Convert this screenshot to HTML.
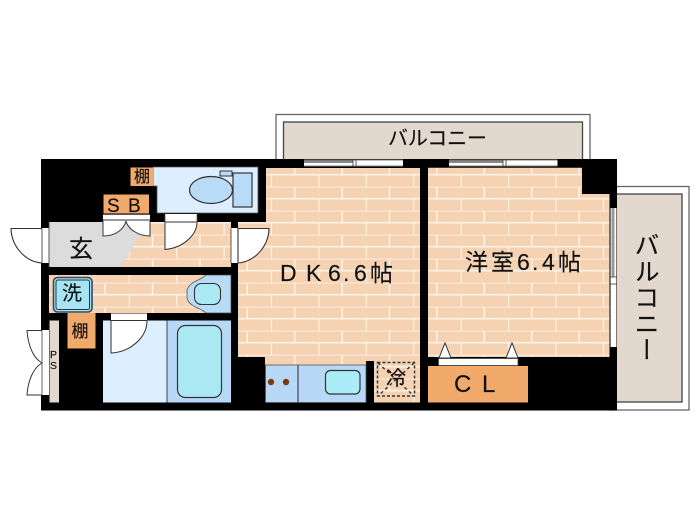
<!DOCTYPE html>
<html><head><meta charset="utf-8"><style>
html,body{margin:0;padding:0;background:#fff}
svg{display:block}
text{font-family:"Liberation Sans","Noto Sans CJK JP",sans-serif;fill:#111;stroke:#111;stroke-width:.15}
</style></head><body>
<svg width="700" height="525" viewBox="0 0 700 525" xmlns="http://www.w3.org/2000/svg">
<defs>
<pattern id="b" patternUnits="userSpaceOnUse" x="271" y="162.7" width="47.4" height="24">
<rect width="47.4" height="24" fill="#f5d3b2"/>
<path d="M0 0H47.4M0 12H47.4M23.7 0V12M0.4 12V24" stroke="#fdf5ec" stroke-width="1.4" fill="none"/>
</pattern>
</defs>
<rect width="700" height="525" fill="#fff"/>
<!-- balconies -->
<rect x="276" y="114.5" width="314" height="50" fill="#fff" stroke="#666" stroke-width="1.3"/>
<rect x="283.5" y="122" width="299" height="40" fill="#e2d8ce" stroke="#444" stroke-width="1.3"/>
<rect x="610" y="186.5" width="79" height="223.5" fill="#fff" stroke="#666" stroke-width="1.3"/>
<rect x="612" y="194" width="70" height="208" fill="#e2d8ce" stroke="#444" stroke-width="1.3"/>
<!-- main black -->
<rect x="41" y="159" width="576" height="251.5" fill="#000"/>
<!-- brick floors -->
<rect x="266" y="168" width="154" height="60" fill="url(#b)"/>
<path d="M238 222H420V402.5H374V361H366V365H265V357H238Z" fill="url(#b)"/>
<path d="M428 167.7H582V194H609.5V357H428Z" fill="url(#b)"/>
<rect x="49" y="222" width="182" height="45" fill="url(#b)"/>
<rect x="49" y="275" width="182" height="38" fill="url(#b)"/>
<!-- wall stubs -->
<rect x="231" y="213" width="35" height="9" fill="#000"/>
<rect x="231" y="222" width="7" height="45" fill="#000"/>
<!-- entry -->
<path d="M49 222H140V235L120.5 267H49Z" fill="#dcdcdc"/>
<!-- toilet -->
<path d="M153 167H258V213H157V186H153Z" fill="#dceeff" stroke="#555" stroke-width=".8"/>
<ellipse cx="211" cy="190" rx="21.5" ry="13.5" fill="#b8dcf8" stroke="#333" stroke-width="1.2"/>
<rect x="233" y="173" width="19" height="34" fill="#b8dcf8" stroke="#333" stroke-width="1.2"/>
<rect x="220" y="171" width="12" height="5" fill="#b8dcf8" stroke="#333" stroke-width="1"/>
<!-- shelves -->
<rect x="130.5" y="167.5" width="22.5" height="18.5" fill="#f2aa6c"/>
<rect x="103.5" y="194.5" width="45.5" height="19" fill="#f2aa6c"/>
<rect x="67.5" y="313" width="28" height="35.5" fill="#f2aa6c"/>
<text x="142" y="182" font-size="16" text-anchor="middle">棚</text>
<text x="107 128" y="212" font-size="19">SB</text>
<text x="80" y="337" font-size="17" text-anchor="middle">棚</text>
<!-- SB doors -->
<rect x="103" y="214" width="47" height="8" fill="#fff"/>
<path d="M103 214.5H150M103 220.5H150" stroke="#555" stroke-width="1"/>
<path d="M103 220V236C116 236 124 229 126 221C128 229 138 236 150 236V220Z" fill="#fff" stroke="#333" stroke-width="1"/>
<!-- door to toilet -->
<rect x="165" y="214" width="32" height="8" fill="#fff"/>
<path d="M165 222V249.5C183 248 197 235 197 222Z" fill="#fff" stroke="#333" stroke-width="1"/>
<path d="M165 214.5V222M197 214.5V222" stroke="#555" stroke-width=".8"/>
<text x="81" y="257" font-size="24" text-anchor="middle">玄</text>
<!-- front door -->
<rect x="42" y="228" width="7" height="35" fill="#fff"/>
<path d="M42 228.5H11C11.5 247 26 262 42 263" fill="#fff" stroke="#333" stroke-width="1.1"/>
<path d="M42 228.5V263M49 222V267" stroke="#444" stroke-width=".9" fill="none"/>
<!-- door to DK -->
<rect x="231" y="228" width="7" height="35" fill="#fff"/>
<path d="M238 228.5H269C268.5 247 254 262 238 263Z" fill="#fff" stroke="#333" stroke-width="1.1"/>
<path d="M231 228.5V263" stroke="#444" stroke-width=".9"/>
<!-- washer -->
<rect x="53.5" y="277.5" width="38.5" height="34.5" rx="4" fill="#a6e4f2" stroke="#2d4a66" stroke-width="1.6"/>
<rect x="56" y="280" width="33.5" height="29.5" rx="2" fill="none" stroke="#333" stroke-width="1"/>
<text x="72" y="300" font-size="20" text-anchor="middle">洗</text>
<!-- basin -->
<path d="M206 275H231V313H206C200 307 190 308 187 298V290C190 281 200 281 206 275Z" fill="#b8dcf8" stroke="#444" stroke-width=".7"/>
<rect x="194.5" y="283.5" width="26" height="21" rx="7" fill="#aae8f4" stroke="#333" stroke-width="1.1"/>
<!-- bath -->
<rect x="103" y="320.5" width="64" height="82" fill="#dceeff"/>
<rect x="167" y="320.5" width="64" height="82" fill="#b8d8f8"/>
<path d="M167 320.5V402.5" stroke="#444" stroke-width="1"/>
<rect x="177.5" y="325.5" width="44" height="72" rx="8" fill="#aae8f4" stroke="#333" stroke-width="1.2"/>
<rect x="111" y="313" width="36" height="7.5" fill="#fff"/>
<path d="M111 320.5V353C130 352 147 338 147 320.5Z" fill="#fff" stroke="#333" stroke-width="1"/>
<path d="M111 313.5H147" stroke="#666" stroke-width=".8"/>
<!-- PS -->
<rect x="49.5" y="320.5" width="9.5" height="82" fill="#e2d8ce"/>
<text x="53.5" y="358" font-size="10.5" text-anchor="middle" fill="#333">P</text>
<text x="53.5" y="369" font-size="10.5" text-anchor="middle" fill="#333">S</text>
<rect x="42" y="330" width="7" height="65" fill="#fff"/>
<path d="M42 330.5H27C28 345 33 358 42 363C33 368 28 381 27 395H42" fill="#fff" stroke="#333" stroke-width="1"/>
<path d="M42 330V395" stroke="#444" stroke-width=".8"/>
<!-- kitchen -->
<rect x="265.5" y="365" width="100.5" height="37.5" fill="#b8d8f8" stroke="#555" stroke-width=".8"/>
<path d="M298 365V402.5" stroke="#445" stroke-width="1.2"/>
<circle cx="271" cy="382" r="3.2" fill="#7a3c10"/>
<circle cx="286" cy="382" r="3.2" fill="#7a3c10"/>
<rect x="325.5" y="370.5" width="34.5" height="23.5" rx="5" fill="#aaecf8" stroke="#333" stroke-width="1.2"/>
<!-- fridge -->
<rect x="377.5" y="362.5" width="37" height="33.5" fill="none" stroke="#333" stroke-width="1.5" stroke-dasharray="3 2"/>
<path d="M378 363L414 396M414 363L378 396" stroke="#333" stroke-width="1.4" stroke-dasharray="3 3"/>
<text x="396" y="385" font-size="20" text-anchor="middle">冷</text>
<!-- CL -->
<rect x="428" y="366" width="100" height="36.5" fill="#f2aa6c"/>
<rect x="438.5" y="358.5" width="79.5" height="7" fill="#fff" stroke="#444" stroke-width=".8"/>
<path d="M439 358L445 343L451 358Z M506 358L512 343L518 358Z" fill="#fff" stroke="#333" stroke-width="1"/>
<text x="454 482" y="392" font-size="24">CL</text>
<!-- windows -->
<rect x="304" y="159.5" width="99" height="7" fill="#fff"/>
<rect x="304" y="160" width="49" height="3" fill="#888"/>
<path d="M304 160H403M304 166H403" stroke="#555" stroke-width=".8"/>
<path d="M353 160V166M356 160V166" stroke="#333" stroke-width=".8"/>
<rect x="449" y="159.5" width="108.5" height="7" fill="#fff"/>
<rect x="449" y="160" width="54" height="3" fill="#888"/>
<path d="M449 160H557.5M449 166H557.5" stroke="#555" stroke-width=".8"/>
<path d="M503 160V166M506 160V166" stroke="#333" stroke-width=".8"/>
<rect x="610" y="208" width="7" height="139" fill="#fff"/>
<rect x="611.5" y="208" width="3" height="69" fill="#999"/>
<path d="M610.5 208V347M616.5 208V347" stroke="#555" stroke-width=".8"/>
<path d="M610 277H617M610 284H617" stroke="#333" stroke-width=".8"/>
<!-- labels -->
<text x="437.5" y="145" font-size="20" text-anchor="middle" textLength="99" lengthAdjust="spacing">バルコニー</text>
<text x="645" y="232" font-size="25" style="writing-mode:vertical-rl" textLength="130" lengthAdjust="spacing">バルコニー</text>
<text x="280 306 328 343 354 370" y="281" font-size="23">DK6.6帖</text>
<text x="465 491 517 532 542 558" y="270" font-size="23">洋室6.4帖</text>
</svg>
</body></html>
